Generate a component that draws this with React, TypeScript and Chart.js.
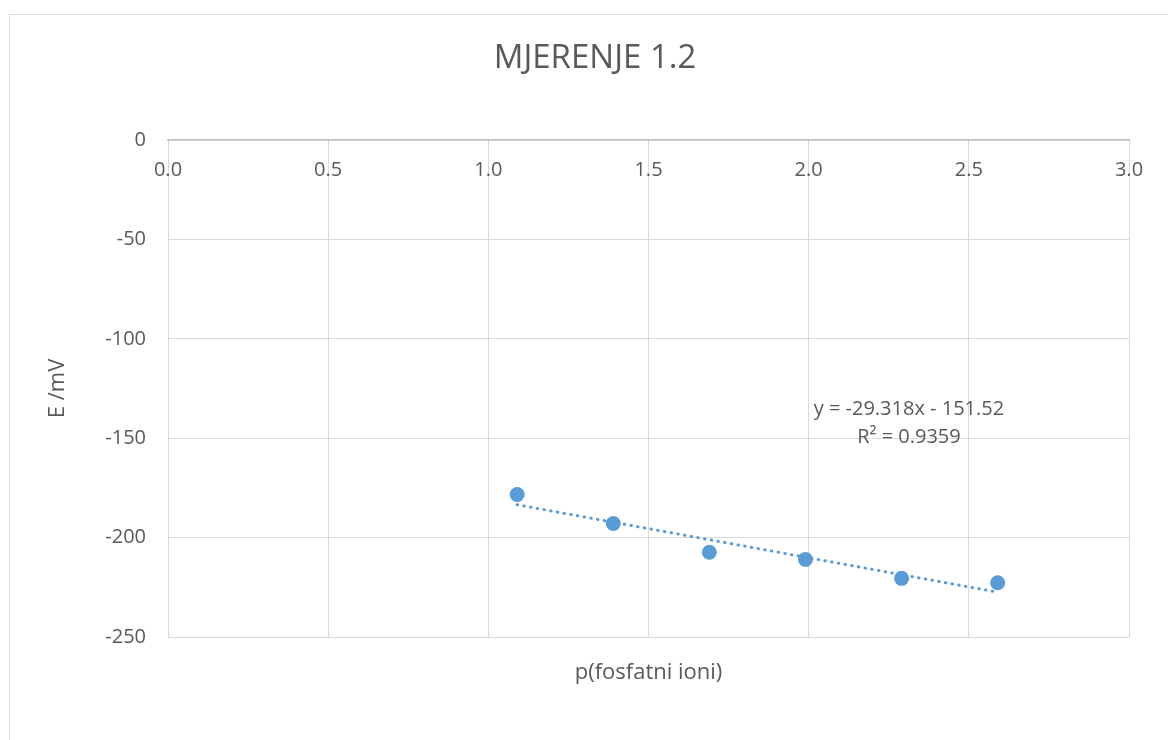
import React, { useEffect, useRef } from "react";
import { Chart, registerables } from "chart.js";

Chart.register(...registerables);

// ---- data ----
const TITLE = "MJERENJE 1.2";
const X_TITLE = "p(fosfatni ioni)";
const Y_TITLE = "E /mV";
const pValues = [1.09, 1.39, 1.69, 1.99, 2.29, 2.59];
const eValues = [-178.3, -192.9, -207.4, -211.0, -220.5, -222.7];
const TREND_SLOPE = -29.318;
const TREND_INTERCEPT = -151.52;
const TREND_EQUATION = "y = -29.318x - 151.52";
const TREND_R2 = "R² = 0.9359";
const X_MIN = 0;
const X_MAX = 3;
const X_STEP = 0.5;
const Y_MIN = -250;
const Y_MAX = 0;
const Y_STEP = 50;

// ---- style ----
const FONT = '"Open Sans", sans-serif';
const TEXT = "#595959";
const BLUE = "#5b9bd5";
const GRID = "#d9d9d9";
const TREND_LABEL_X = 2.313;
const TREND_LABEL_Y = -135.3;

const trendLabelPlugin = {
  id: "trendLabel",
  afterDatasetsDraw(chart: any) {
    const { ctx, scales } = chart;
    const px = scales.x.getPixelForValue(TREND_LABEL_X);
    const py = scales.y.getPixelForValue(TREND_LABEL_Y);
    ctx.save();
    ctx.font = `20px ${FONT}`;
    ctx.fillStyle = TEXT;
    ctx.textAlign = "center";
    ctx.textBaseline = "middle";
    ctx.fillText(TREND_EQUATION, px, py);
    ctx.fillText(TREND_R2, px, py + 28);
    ctx.restore();
  },
};

export default function App() {
  const ref = useRef<HTMLCanvasElement | null>(null);

  useEffect(() => {
    if (!ref.current) return;
    const points = pValues.map((x, i) => ({ x, y: eValues[i] }));
    const xLo = Math.min(...pValues);
    const xHi = Math.max(...pValues);
    const trend = [xLo, xHi].map((x) => ({ x, y: TREND_SLOPE * x + TREND_INTERCEPT }));

    const chart = new Chart(ref.current, {
      type: "scatter",
      data: {
        datasets: [
          {
            label: "trend",
            data: trend,
            xAxisID: "x",
            yAxisID: "y",
            showLine: true,
            pointRadius: 0,
            borderColor: BLUE,
            borderWidth: 3,
            borderDash: [0.5, 6.3],
            borderCapStyle: "round",
            order: 0,
          } as any,
          {
            label: "E",
            data: points,
            xAxisID: "x",
            yAxisID: "y",
            pointRadius: 7.5,
            pointBackgroundColor: BLUE,
            pointBorderColor: BLUE,
            pointBorderWidth: 0,
            order: 1,
          } as any,
        ],
      },
      options: {
        animation: false,
        responsive: true,
        maintainAspectRatio: false,
        layout: { padding: 0 },
        plugins: {
          legend: { display: false },
          tooltip: { enabled: false },
          title: {
            display: true,
            text: TITLE,
            color: TEXT,
            font: { family: FONT, size: 33, weight: "normal" },
            padding: { top: 23.7, bottom: 61.7 },
          },
        },
        scales: {
          x: {
            type: "linear",
            position: { y: 0 },
            min: X_MIN,
            max: X_MAX,
            ticks: {
              stepSize: X_STEP,
              callback: (v: any) => Number(v).toFixed(1),
              color: TEXT,
              font: { family: FONT, size: 20 },
              padding: 18,
              maxRotation: 0,
              autoSkip: false,
            },
            grid: { color: GRID, drawTicks: false, lineWidth: 1 },
            border: { display: true, color: "#bfbfbf", width: 1.5 },
          },
          x2: {
            type: "linear",
            position: "bottom",
            display: true,
            ticks: { display: false },
            grid: { display: false, drawTicks: false },
            border: { display: false },
            title: {
              display: true,
              text: X_TITLE,
              color: TEXT,
              font: { family: FONT, size: 22 },
              padding: { top: 0, bottom: 68.8 },
            },
            afterFit: (s: any) => {
              s.height = 118;
            },
          },
          y: {
            type: "linear",
            position: "left",
            min: Y_MIN,
            max: Y_MAX,
            ticks: {
              stepSize: Y_STEP,
              color: TEXT,
              font: { family: FONT, size: 20 },
              padding: 22,
              callback: (v: any) => String(v),
            },
            grid: { color: GRID, drawTicks: false },
            border: { display: false },
            title: {
              display: true,
              text: Y_TITLE,
              color: TEXT,
              font: { family: FONT, size: 22 },
              padding: { top: 34.8, bottom: 0 },
            },
            afterFit: (s: any) => {
              s.width = 158;
            },
          },
          y2: {
            type: "linear",
            position: "right",
            display: true,
            ticks: { display: false },
            grid: { display: false, drawTicks: false },
            border: { display: false },
            afterFit: (s: any) => {
              s.width = 51;
            },
          },
        } as any,
      },
      plugins: [trendLabelPlugin],
    });
    return () => chart.destroy();
  }, []);

  return (
    <div
      style={{
        position: "fixed",
        left: 0,
        top: 0,
        width: 1168,
        height: 740,
        overflow: "hidden",
        background: "#fff",
      }}
    >
      <div
        style={{
          position: "absolute",
          left: 9,
          top: 14,
          width: 1170,
          height: 740,
          border: "1px solid #d9d9d9",
        }}
      >
        <canvas ref={ref} />
      </div>
    </div>
  );
}
